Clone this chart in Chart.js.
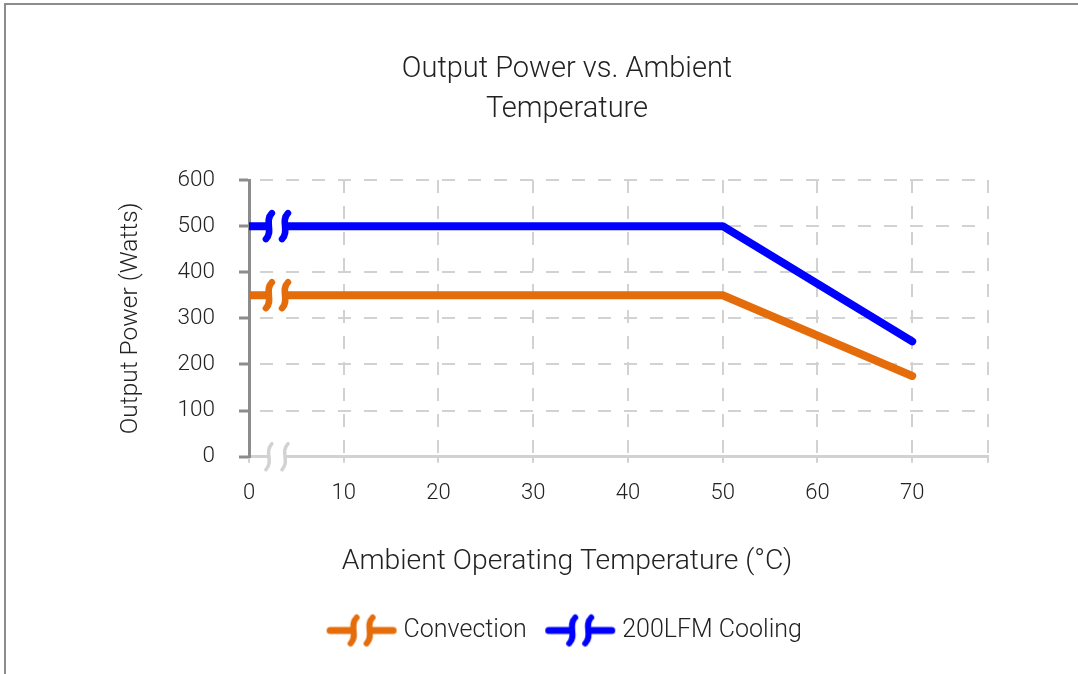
<!DOCTYPE html>
<html>
<head>
<meta charset="utf-8">
<title>Output Power vs. Ambient Temperature</title>
<script src="https://cdn.jsdelivr.net/npm/chart.js@4.4.1/dist/chart.umd.min.js"></script>
<style>
  html, body { margin: 0; padding: 0; background: #fff; overflow: hidden; }
  #frame {
    position: absolute; left: 4px; top: 3px; width: 1200px; height: 800px;
    border-top: 2px solid #8c8c8c; border-left: 2px solid #8c8c8c;
  }
  #powerChart { position: absolute; left: 0; top: 0; }
</style>
</head>
<body>
<div id="frame"></div>
<canvas id="powerChart" width="1078" height="674"></canvas>
<script>
// data
const temps = [0, 50, 70];
const convection = [350, 350, 175];
const cooling200 = [500, 500, 250];
const xTicks = [0, 10, 20, 30, 40, 50, 60, 70];
const yTicks = [0, 100, 200, 300, 400, 500, 600];
const xMax = 78;
const breakAt = [2.1, 3.8];

const FONT = 'Roboto, "Noto Sans", sans-serif';
const TEXT = "#222222";
const GRID = "#d2d2d2";
const AXIS = "#8c8c8c";
const ORANGE = "#e46c0a";
const BLUE = "#0000ff";

// the little "//" break mark, two S strokes with the line cut between them
function strokeBreak(ctx, xs, cy, color, width, gap) {
  ctx.save();
  ctx.fillStyle = "#fff";
  ctx.fillRect(xs[0], cy - gap / 2, xs[1] - xs[0], gap);
  ctx.strokeStyle = color;
  ctx.lineWidth = width;
  ctx.lineCap = "round";
  xs.forEach((cx) => {
    ctx.beginPath();
    ctx.moveTo(cx + 3, cy - 13);
    ctx.bezierCurveTo(cx - 5, cy - 5, cx + 5, cy + 5, cx - 3, cy + 13);
    ctx.stroke();
  });
  ctx.restore();
}

function makeLegendIcon(color) {
  const c = document.createElement("canvas");
  c.width = 72;
  c.height = 36;
  const g = c.getContext("2d");
  g.strokeStyle = color;
  g.lineWidth = 7;
  g.lineCap = "round";
  g.beginPath();
  g.moveTo(4.5, 18);
  g.lineTo(67.5, 18);
  g.stroke();
  strokeBreak(g, [28, 44], 18, color, 6, 10);
  return c;
}

const legendIcons = [makeLegendIcon(ORANGE), makeLegendIcon(BLUE)];

const axisBreak = {
  id: "axisBreak",
  afterDatasetsDraw(chart) {
    const { ctx, scales } = chart;
    const xs = breakAt.map((v) => scales.x.getPixelForValue(v));
    chart.data.datasets.forEach((ds) => {
      strokeBreak(ctx, xs, scales.y.getPixelForValue(ds.data[0].y), ds.borderColor, 6.5, 11);
    });
    strokeBreak(ctx, xs, scales.y.getPixelForValue(0), GRID, 3.5, 6);
  },
};

const toPoints = (vals) => temps.map((t, i) => ({ x: t, y: vals[i] }));

new Chart(document.getElementById("powerChart"), {
  type: "line",
  data: {
    datasets: [
      {
        label: "Convection",
        data: toPoints(convection),
        borderColor: ORANGE,
        backgroundColor: ORANGE,
        borderWidth: 8,
        borderCapStyle: "round",
        borderJoinStyle: "round",
        pointRadius: 0,
        tension: 0,
      },
      {
        label: "200LFM Cooling",
        data: toPoints(cooling200),
        borderColor: BLUE,
        backgroundColor: BLUE,
        borderWidth: 8,
        borderCapStyle: "round",
        borderJoinStyle: "round",
        pointRadius: 0,
        tension: 0,
      },
    ],
  },
  options: {
    responsive: false,
    animation: false,
    devicePixelRatio: 1,
    layout: { padding: { left: 56, right: 0, top: 0, bottom: 21 } },
    plugins: {
      title: {
        display: true,
        text: ["Output Power vs. Ambient", "Temperature"],
        color: TEXT,
        font: { family: FONT, size: 29, weight: "300", lineHeight: 1.38 },
        padding: { top: 50, bottom: 50 },
      },
      subtitle: {
        display: true,
        position: "bottom",
        weight: 500,
        text: "Ambient Operating Temperature (°C)",
        color: TEXT,
        font: { family: FONT, size: 28.3, weight: "300", lineHeight: 1.2 },
        padding: { top: 20, bottom: 15 },
      },
      legend: {
        position: "bottom",
        labels: {
          usePointStyle: true,
          pointStyleWidth: 59,
          padding: 24,
          color: TEXT,
          font: { family: FONT, size: 25, weight: "300" },
          generateLabels(chart) {
            const items = Chart.defaults.plugins.legend.labels.generateLabels(chart);
            items.forEach((item) => {
              item.pointStyle = legendIcons[item.datasetIndex];
            });
            return items;
          },
        },
      },
      tooltip: { enabled: false },
    },
    scales: {
      x: {
        type: "linear",
        min: 0,
        max: xMax,
        afterBuildTicks(scale) {
          scale.ticks = xTicks.concat([xMax]).map((v) => ({ value: v }));
        },
        ticks: {
          color: TEXT,
          padding: 18,
          maxRotation: 0,
          font: { family: FONT, size: 22, weight: "300" },
          callback: (v) => (xTicks.includes(v) ? v : ""),
        },
        grid: {
          color: GRID,
          lineWidth: 2,
          tickLength: 6,
          tickColor: GRID,
          tickWidth: 2,
        },
        border: { color: GRID, width: 3, dash: [13, 13] },
      },
      y: {
        min: 0,
        max: 600,
        afterBuildTicks(scale) {
          scale.ticks = yTicks.map((v) => ({ value: v }));
        },
        afterFit(scale) {
          scale.width = 193;
        },
        ticks: {
          color: TEXT,
          padding: 24,
          font: { family: FONT, size: 22.5, weight: "300" },
        },
        grid: {
          color: GRID,
          lineWidth: 2,
          tickLength: 10,
          tickColor: AXIS,
          tickWidth: 3,
        },
        border: { color: AXIS, width: 3, dash: [13, 13], dashOffset: 17 },
        title: {
          display: true,
          text: "Output Power (Watts)",
          color: TEXT,
          font: { family: FONT, size: 24.5, weight: "300", lineHeight: 1.2 },
          padding: { top: 60, bottom: 0 },
        },
      },
      yRight: {
        position: "right",
        ticks: { display: false },
        grid: { display: false },
        border: { display: false },
        afterFit(scale) {
          scale.width = 90;
        },
      },
    },
  },
  plugins: [axisBreak],
});
</script>
</body>
</html>
